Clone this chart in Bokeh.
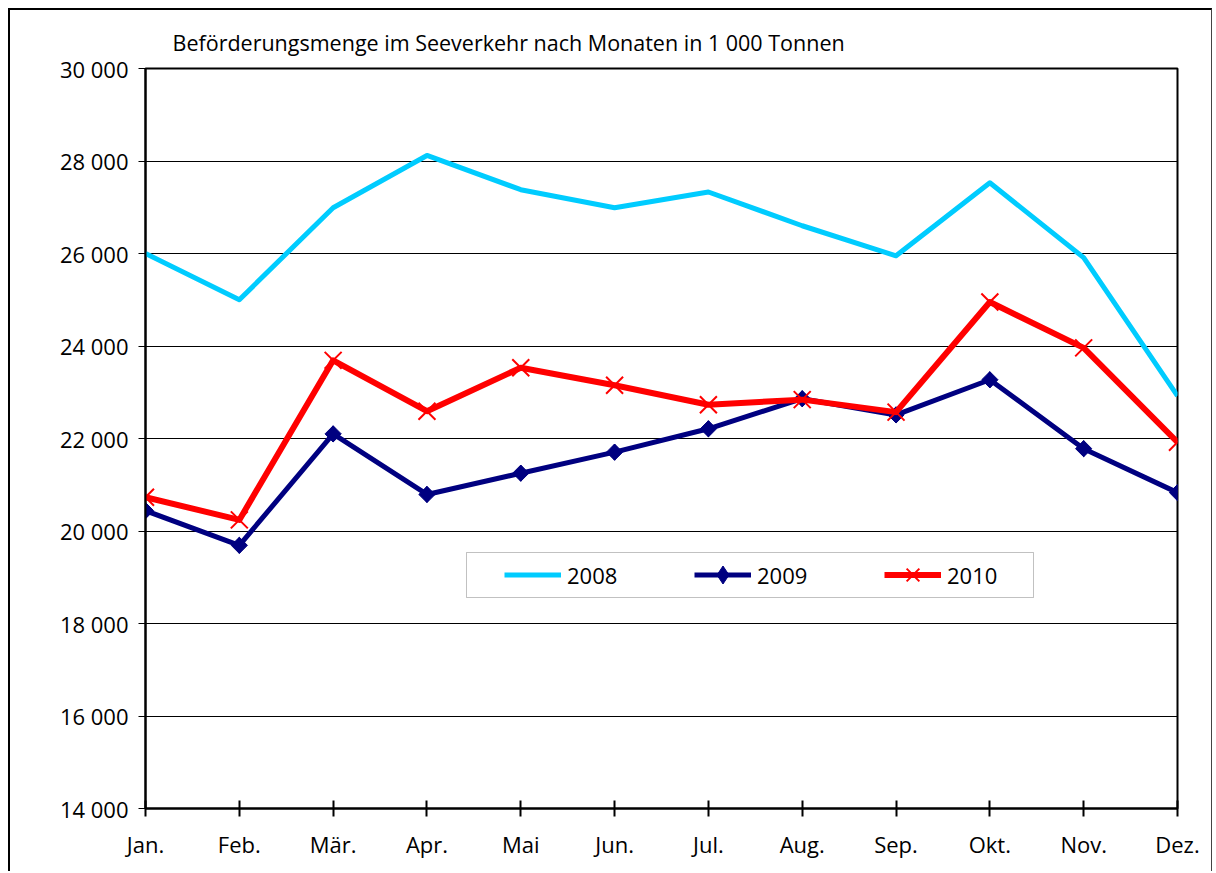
import math
from bokeh.plotting import figure
from bokeh.models import (Range1d, FixedTicker, Legend, LegendItem,
                          BoxAnnotation)
from bokeh.embed import file_html
from bokeh.resources import INLINE

months = ["Jan.", "Feb.", "Mär.", "Apr.", "Mai", "Jun.", "Jul.", "Aug.",
          "Sep.", "Okt.", "Nov.", "Dez."]
values_2008 = [26000, 25000, 26990, 28120, 27380, 26990, 27330, 26600,
               25950, 27530, 25910, 22920]
values_2009 = [20440, 19690, 22100, 20790, 21250, 21705, 22210, 22860,
               22510, 23270, 21780, 20830]
values_2010 = [20730, 20240, 23690, 22590, 23530, 23150, 22730, 22840,
               22570, 24950, 23960, 21920]
y_ticks = [14000, 16000, 18000, 20000, 22000, 24000, 26000, 28000, 30000]
title_text = "Beförderungsmenge im Seeverkehr nach Monaten in 1 000 Tonnen"

FONT = "Open Sans"
x = list(range(len(months)))

p = figure(width=1204, height=863, output_backend="svg", toolbar_location=None,
           x_range=Range1d(0, len(months) - 1), y_range=Range1d(14000, 30000),
           min_border_left=135, min_border_right=37, min_border_top=58,
           min_border_bottom=65)
p.styles = {"margin-left": "8px", "margin-top": "8px",
            "margin-bottom": "-12px",
            "border-left": "2px solid black", "border-top": "2px solid black",
            "border-right": "1px solid #444"}

p.title.text = title_text
p.title.align = "left"
p.title.offset = 27
p.title.standoff = 23
p.title.text_font = FONT
p.title.text_font_size = "21.5px"
p.title.text_font_style = "normal"
p.title.text_color = "black"

p.outline_line_color = "black"
p.outline_line_width = 2
p.background_fill_color = "white"
p.border_fill_color = "white"

p.xgrid.visible = False
p.ygrid.grid_line_color = "black"
p.ygrid.grid_line_width = 1
p.ygrid.ticker = FixedTicker(ticks=y_ticks)

xa = p.xaxis[0]
xa.ticker = FixedTicker(ticks=x)
xa.major_label_overrides = {i: m for i, m in enumerate(months)}
xa.axis_line_width = 2
xa.major_tick_line_width = 2
xa.major_tick_in = 8
xa.major_tick_out = 8
xa.minor_tick_line_color = None
xa.major_label_text_font = FONT
xa.major_label_text_font_size = "22px"
xa.major_label_text_color = "black"
xa.major_label_standoff = 12

ya = p.yaxis[0]
ya.ticker = FixedTicker(ticks=y_ticks)
ya.major_label_overrides = {v: f"{v:,}".replace(",", " ") for v in y_ticks}
ya.axis_line_width = 2
ya.major_tick_line_width = 1
ya.major_tick_in = 0
ya.major_tick_out = 7
ya.minor_tick_line_color = None
ya.major_label_text_font = FONT
ya.major_label_text_font_size = "22px"
ya.major_label_text_color = "black"
ya.major_label_standoff = 10

r08 = p.line(x, values_2008, line_color="#00CCFF", line_width=5,
             line_join="round")
r09 = p.line(x, values_2009, line_color="#000080", line_width=5,
             line_join="round")
# diamond glyph (used by the legend), covered by the wider rotated square
d09 = p.scatter(x, values_2009, marker="diamond", size=16,
                fill_color="#000080", line_color="#000080")
m09 = p.scatter(x, values_2009, marker="square", size=11.5, angle=math.pi / 4,
                fill_color="#000080", line_color="#000080")
r10 = p.line(x, values_2010, line_color="#FF0000", line_width=6,
             line_join="round")
m10 = p.scatter(x, values_2010, marker="x", size=24, line_color="#FF0000",
                line_width=2)

box = BoxAnnotation(left=321, right=888, bottom=211, top=256,
                    left_units="screen", right_units="screen",
                    bottom_units="screen", top_units="screen",
                    fill_color="white", fill_alpha=1,
                    line_color="#333333", line_width=1, level="overlay")
p.add_layout(box)

legend = Legend(items=[LegendItem(label="2008", renderers=[r08]),
                       LegendItem(label="2009", renderers=[r09, d09]),
                       LegendItem(label="2010", renderers=[r10, m10])],
                orientation="horizontal", location=(359, 211),
                glyph_width=57, glyph_height=45, label_height=21,
                label_width=51, label_standoff=6, spacing=76, padding=0,
                margin=0,
                border_line_alpha=0, background_fill_alpha=0,
                label_text_font=FONT, label_text_font_size="22px",
                label_text_color="black")
p.add_layout(legend, "center")

open("out.html", "w").write(file_html(p, INLINE))
